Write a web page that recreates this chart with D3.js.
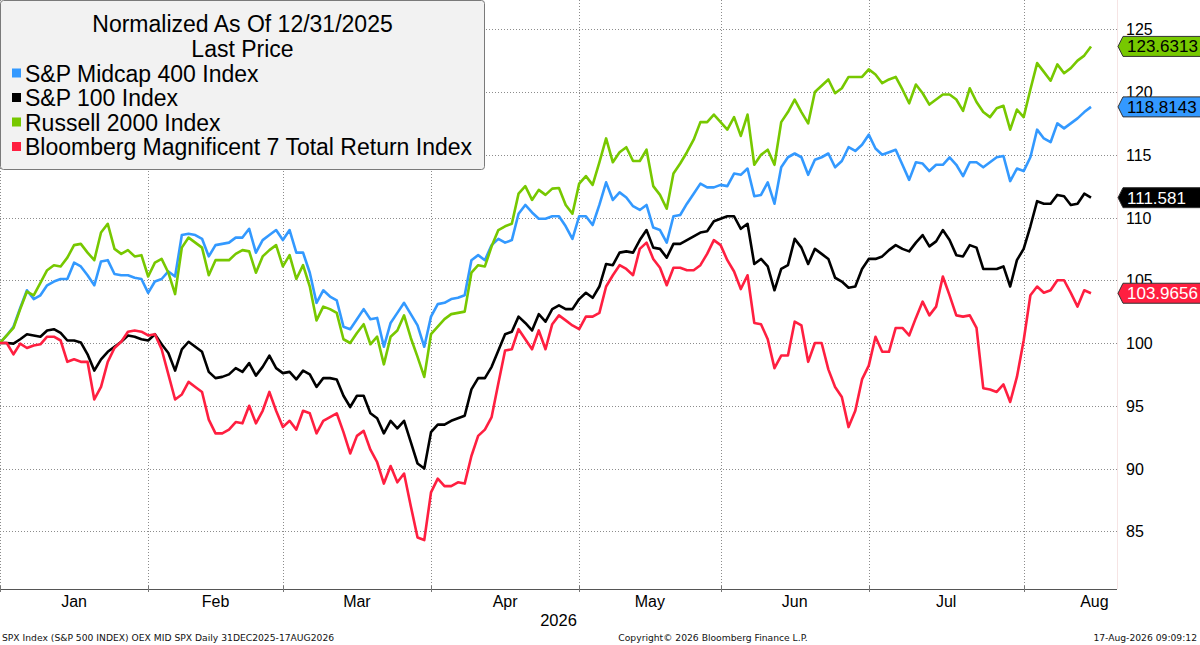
<!DOCTYPE html>
<html>
<head>
<meta charset="utf-8">
<script src="https://cdn.jsdelivr.net/npm/d3@7"></script>
<style>
  body { margin: 0; background: #fff; }
  svg { display: block; font-family: "Liberation Sans", Arial, sans-serif; }
</style>
</head>
<body>
<script>
// calendar: every weekday, Bloomberg carries holidays forward
var startDate = "2025-12-31",
    endDate = "2026-08-17",
    axisEndDate = "2026-09-01";
var monthNames = ["Jan", "Feb", "Mar", "Apr", "May", "Jun", "Jul", "Aug"];
var yearLabel = "2026";
var yTicks = [85, 90, 95, 100, 105, 110, 115, 120, 125];

var seriesNames = ["S&P Midcap 400 Index", "S&P 100 Index", "Russell 2000 Index",
    "Bloomberg Magnificent 7 Total Return Index"];
var seriesColors = ["#3399ff", "#000000", "#77c800", "#ff1f40"];
var tagTextColors = ["#000000", "#ffffff", "#000000", "#ffffff"];

// normalized to 100 on 12/31/2025
var midcap = [100, 100, 100.6, 101.3, 102.8, 104.2, 103.5, 103.8, 104.6, 104.9, 105.1, 105.1, 106.4, 106.1, 105.4,
    104.6, 106.5, 106.6, 105.5, 105.4, 105.4, 105.2, 105.1, 104.0, 104.9, 105.1, 105.7, 105.3, 108.6, 108.7, 108.6,
    108.3, 106.9, 107.8, 107.9, 108.0, 108.4, 108.4, 109.1, 107.2, 108.2, 108.6, 109.0, 108.2, 109.0,
    107.2, 107.2, 105.6, 103.2, 104.2, 103.7, 103.4, 101.3, 101.1, 101.9, 102.7, 101.9, 102.0, 99.7, 101.6, 102.4,
    103.2, 102.3, 101.4, 99.7, 102.1, 103.1, 103.2, 103.5, 103.6, 103.8, 106.6, 107.0, 106.6, 107.8, 108.3, 108.0,
    108.2, 110.3, 111.0, 110.4, 109.9, 109.9, 110.1, 110.1,
    109.3, 108.3, 110.1, 110.1, 109.4, 111.0, 112.8, 111.4, 112.0, 111.6, 110.9, 110.6, 111.0, 109.2, 109.0, 108.0,
    110.1, 110.2, 111.1, 111.9, 112.7, 112.4, 112.4, 112.6, 112.5, 113.5, 113.4, 113.9, 111.7, 111.8, 112.8, 111.1,
    114.0, 114.8, 115.1, 114.8, 113.4, 114.6, 114.8, 115.1, 114.0, 114.5,
    115.6, 115.3, 115.8, 116.6, 115.5, 115.0, 115.2, 115.4, 114.2, 113.0, 114.4, 114.3, 113.7, 114.2, 114.2, 114.8,
    114.2, 113.3, 114.4, 114.4, 114.0, 114.4, 114.8, 114.9, 112.9, 113.9, 113.7, 114.8, 117.0, 116.3, 116.0, 117.5,
    117.1, 117.5, 117.9, 118.4, 118.8143];

var sp100 = [100, 100, 100.0, 99.95, 100.3, 100.7, 100.6, 100.5, 101.0, 101.1, 100.8, 100.2, 100.2, 100.05, 99.1,
    97.8, 98.7, 99.3, 99.7, 100.1, 100.6, 100.5, 100.3, 100.2, 100.7, 99.9, 99.2, 97.8, 99.5, 100.1, 99.7, 99.3, 97.7,
    97.2, 97.3, 97.5, 98.0, 97.7, 98.4, 97.4, 98.1, 99.0, 98.0, 97.6, 97.7,
    97.1, 97.8, 97.5, 96.5, 97.2, 97.2, 97.1, 95.8, 94.9, 95.8, 95.8, 94.4, 94.0, 92.8, 93.8, 93.2, 93.8, 92.1, 90.4,
    90.0, 92.9, 93.5, 93.5, 93.8, 94.0, 94.2, 96.3, 97.2, 97.2, 98.1, 99.4, 100.7, 100.9, 102.1, 101.6, 101.0, 102.3,
    101.7, 102.7, 103.0,
    102.7, 102.7, 103.5, 104.0, 103.6, 104.5, 106.3, 106.2, 107.2, 107.3, 107.2, 108.2, 109.0, 107.6, 107.5, 106.8,
    107.9, 107.9, 108.2, 108.5, 108.8, 108.9, 109.7, 109.9, 110.1, 110.1, 109.1, 109.5, 106.3, 106.7, 106.1, 104.2,
    105.9, 106.2, 108.3, 107.6, 106.3, 107.5, 107.1, 106.7, 105.2, 104.9,
    104.4, 104.5, 105.9, 106.7, 106.7, 106.9, 107.4, 107.8, 107.5, 107.3, 108.0, 108.6, 107.7, 108.1, 109.0, 108.2,
    107.0, 106.9, 107.8, 107.6, 105.9, 105.9, 105.9, 106.1, 104.5, 106.6, 107.5, 109.3, 111.3, 111.1, 111.1, 111.8,
    111.7, 111.0, 111.1, 111.9, 111.581];

var russell = [100, 100.0, 100.6, 101.2, 102.7, 104.1, 103.8, 104.8, 105.8, 106.2, 106.1, 106.8, 107.8, 107.9, 107.2,
    106.6, 108.8, 109.5, 107.5, 107.1, 107.4, 106.9, 107.0, 105.3, 106.4, 106.7, 105.6, 103.9, 107.6, 108.4, 108.0,
    107.6, 105.4, 106.6, 106.6, 106.6, 107.1, 107.4, 107.3, 105.6, 106.9, 107.4, 107.8, 106.1, 107.0,
    105.1, 106.2, 104.5, 101.8, 102.9, 102.7, 102.4, 100.3, 100.0, 100.8, 101.5, 99.9, 100.5, 98.3, 100.5, 101.0,
    102.2, 100.4, 98.9, 97.3, 100.7, 101.3, 101.9, 102.3, 102.4, 102.5, 105.6, 106.2, 106.1, 107.7, 109.0, 109.3,
    109.5, 111.9, 112.5, 111.4, 112.2, 111.8, 112.3, 112.35,
    111.0, 110.3, 112.7, 113.3, 112.6, 114.4, 116.3, 114.4, 115.2, 115.6, 114.5, 114.5, 115.4, 112.5, 111.8, 110.7,
    113.5, 114.3, 115.2, 116.2, 117.6, 117.6, 118.2, 117.6, 117.0, 118.0, 116.5, 118.2, 114.2, 115.0, 115.4, 114.2,
    117.6, 118.4, 119.4, 118.4, 117.5, 120.0, 120.5, 121.0, 119.9, 120.3,
    121.2, 121.2, 121.2, 121.8, 121.4, 120.7, 121.0, 121.2, 120.2, 119.1, 120.6, 119.9, 119.0, 119.4, 119.8, 119.8,
    119.4, 118.5, 120.3, 119.2, 118.4, 118.0, 118.7, 118.9, 117.0, 118.6, 118.0, 120.2, 122.3, 121.6, 120.9, 122.2,
    121.5, 121.9, 122.5, 122.9, 123.6313];

var mag7 = [100, 100, 100, 99.1, 99.95, 99.6, 99.8, 99.9, 100.5, 100.5, 100.2, 98.5, 98.7, 98.5, 98.5, 95.5, 96.5,
    98.5, 99.6, 100.1, 100.9, 101.0, 100.9, 100.6, 100.7, 99.5, 97.5, 95.5, 95.9, 96.9, 96.5, 96.1, 93.9, 92.8, 92.8,
    93.1, 93.7, 93.6, 95.0, 93.6, 94.6, 96.1, 94.6, 93.3, 93.8,
    93.1, 94.6, 94.4, 92.8, 93.8, 94.1, 94.4, 92.9, 91.2, 92.6, 93.0, 91.5, 90.5, 88.8, 90.2, 88.9, 89.6, 87.0, 84.5,
    84.3, 88.1, 89.2, 88.6, 88.6, 88.9, 88.8, 91.0, 92.6, 93.1, 94.1, 96.8, 99.4, 99.5, 101.1, 100.3, 99.5, 101.0,
    99.5, 101.5, 102.2,
    101.8, 101.4, 101.1, 102.1, 102.1, 102.4, 104.5, 105.4, 106.2, 105.9, 105.4, 107.5, 108.0, 106.7, 106.0, 104.6,
    106.0, 106.0, 105.8, 105.8, 106.2, 107.1, 108.2, 107.8, 106.6, 105.7, 104.3, 105.4, 101.6, 101.5, 100.3, 98.0,
    99.0, 99.0, 101.7, 101.4, 98.5, 100.0, 100.0, 97.9, 96.5, 95.7,
    93.3, 94.6, 97.1, 98.2, 100.5, 99.3, 99.3, 101.2, 101.2, 100.6, 102.0, 103.3, 102.2, 102.9, 105.3, 103.8, 102.2,
    102.1, 102.2, 101.2, 96.4, 96.3, 96.1, 96.7, 95.3, 97.3, 100.2, 103.8, 104.5, 104.0, 104.2, 105.0, 105.0, 104.0,
    102.9, 104.2, 103.9656];

var seriesValues = [midcap, sp100, russell, mag7];

//page frame
var width = 1200,
    height = 645,
    plotRight = 1117,
    plotBottom = 589;

var parse = d3.utcParse("%Y-%m-%d");
function weekdays(a, b){
    return d3.utcDays(parse(a), d3.utcDay.offset(parse(b), 1))
        .filter(function(d){ return d.getUTCDay() % 6 !== 0; });
}
var dates = weekdays(startDate, endDate);        // one per data point
var calendar = weekdays(startDate, axisEndDate); // to place the last month label

//first weekday of every month in the calendar
var monthStarts = [];
calendar.forEach(function(d, i){
    if (i > 0 && (i === 1 || d.getUTCMonth() !== calendar[i - 1].getUTCMonth())) monthStarts.push(i);
});

var x = d3.scaleLinear()
    .domain([1, dates.length - 1])
    .range([0, 1091]);

var y = d3.scaleLinear()
    .domain([80.4, 127.33])
    .range([plotBottom, 0]);

var svg = d3.select("body")
    .append("svg")
    .attr("width", width)
    .attr("height", height);

svg.append("rect").attr("width", width).attr("height", height).attr("fill", "#fff");

svg.append("defs").append("clipPath").attr("id", "plot")
    .append("rect").attr("x", 0).attr("y", 0).attr("width", plotRight).attr("height", plotBottom);

//dotted grid
var grid = svg.append("g").attr("stroke", "#8c8c8c").attr("stroke-dasharray", "1,2").attr("stroke-width", 1);

grid.selectAll(".hgrid")
    .data(yTicks)
    .enter()
    .append("line")
    .attr("class", "hgrid")
    .attr("x1", 0).attr("x2", plotRight)
    .attr("y1", function(d){ return Math.round(y(d)) + 0.5; })
    .attr("y2", function(d){ return Math.round(y(d)) + 0.5; });

var gridMonths = monthStarts.filter(function(i){ return i < dates.length; });
grid.selectAll(".vgrid")
    .data(gridMonths)
    .enter()
    .append("line")
    .attr("class", "vgrid")
    .attr("x1", function(i){ return Math.max(0, Math.round(x(i))) + 0.5; })
    .attr("x2", function(i){ return Math.max(0, Math.round(x(i))) + 0.5; })
    .attr("y1", 0).attr("y2", plotBottom);

//faint right frame
svg.append("line")
    .attr("x1", plotRight + 0.5).attr("x2", plotRight + 0.5)
    .attr("y1", 0).attr("y2", plotBottom)
    .attr("stroke", "#f6e4e4");

//legend box
var legend = svg.append("g");
legend.append("rect")
    .attr("x", 0.5).attr("y", 0.5)
    .attr("width", 484).attr("height", 169)
    .attr("rx", 3)
    .attr("fill", "#f2f2f2")
    .attr("stroke", "#7a7a7a");

legend.selectAll(".title")
    .data(["Normalized As Of 12/31/2025", "Last Price"])
    .enter()
    .append("text")
    .attr("x", 242.5)
    .attr("y", function(d, i){ return 31.5 + i * 25; })
    .attr("text-anchor", "middle")
    .attr("font-size", 23)
    .text(function(d){ return d; });

var entries = legend.selectAll(".entry")
    .data(seriesNames)
    .enter()
    .append("g")
    .attr("transform", function(d, i){ return "translate(0," + (81.5 + i * 24.5) + ")"; });

entries.append("rect")
    .attr("x", 12).attr("y", -13).attr("width", 9).attr("height", 9)
    .attr("fill", function(d, i){ return seriesColors[i]; });

entries.append("text")
    .attr("x", 25)
    .attr("font-size", 23)
    .text(function(d){ return d; });

//lines
var line = d3.line()
    .x(function(d, i){ return x(i); })
    .y(function(d){ return y(d); });

svg.append("g")
    .attr("clip-path", "url(#plot)")
    .selectAll(".series")
    .data(seriesValues)
    .enter()
    .append("path")
    .attr("class", "series")
    .attr("fill", "none")
    .attr("stroke", function(d, i){ return seriesColors[i]; })
    .attr("stroke-width", 2.6)
    .attr("stroke-linejoin", "round")
    .attr("d", line);

//bottom axis
svg.append("line")
    .attr("x1", 0).attr("x2", plotRight)
    .attr("y1", plotBottom + 0.5).attr("y2", plotBottom + 0.5)
    .attr("stroke", "#555").attr("stroke-width", 1.2);

svg.selectAll(".mtick")
    .data(gridMonths)
    .enter()
    .append("line")
    .attr("x1", function(i){ return Math.max(0, Math.round(x(i))) + 0.5; })
    .attr("x2", function(i){ return Math.max(0, Math.round(x(i))) + 0.5; })
    .attr("y1", plotBottom - 3).attr("y2", plotBottom + 3)
    .attr("stroke", "#777");

svg.selectAll(".month")
    .data(monthNames)
    .enter()
    .append("text")
    .attr("x", function(d, k){ return (Math.max(0, x(monthStarts[k])) + x(monthStarts[k + 1])) / 2; })
    .attr("y", 607)
    .attr("text-anchor", "middle")
    .attr("font-size", 16)
    .text(function(d){ return d; });

svg.append("text")
    .attr("x", plotRight / 2)
    .attr("y", 626)
    .attr("text-anchor", "middle")
    .attr("font-size", 16.5)
    .text(yearLabel);

//right axis labels
svg.selectAll(".ylab")
    .data(yTicks)
    .enter()
    .append("text")
    .attr("x", 1126)
    .attr("y", function(d){ return y(d) + 6; })
    .attr("font-size", 16)
    .text(function(d){ return d; });

//last value tags
var tags = svg.selectAll(".tag")
    .data(seriesValues)
    .enter()
    .append("g")
    .attr("transform", function(d){ return "translate(1118," + y(d[d.length - 1]) + ")"; });

tags.append("path")
    .attr("d", "M0,0L5,-10L90,-10L90,10L5,10Z")
    .attr("fill", function(d, i){ return seriesColors[i]; })
    .attr("stroke", "#333")
    .attr("stroke-width", 1);

tags.append("text")
    .attr("x", 9)
    .attr("y", 6)
    .attr("font-size", 17)
    .attr("fill", function(d, i){ return tagTextColors[i]; })
    .text(function(d){ return String(d[d.length - 1]); });

//footer
var foot = svg.append("g")
    .attr("font-family", "'DejaVu Sans', Verdana, sans-serif")
    .attr("font-size", 9.2)
    .attr("fill", "#111");
foot.append("text").attr("x", 2).attr("y", 641)
    .text("SPX Index (S&P 500 INDEX) OEX MID SPX Daily 31DEC2025-17AUG2026");
foot.append("text").attr("x", 713).attr("y", 641).attr("text-anchor", "middle")
    .text("Copyright\u00a9 2026 Bloomberg Finance L.P.");
foot.append("text").attr("x", 1197).attr("y", 641).attr("text-anchor", "end")
    .text("17-Aug-2026 09:09:12");
</script>
</body>
</html>
